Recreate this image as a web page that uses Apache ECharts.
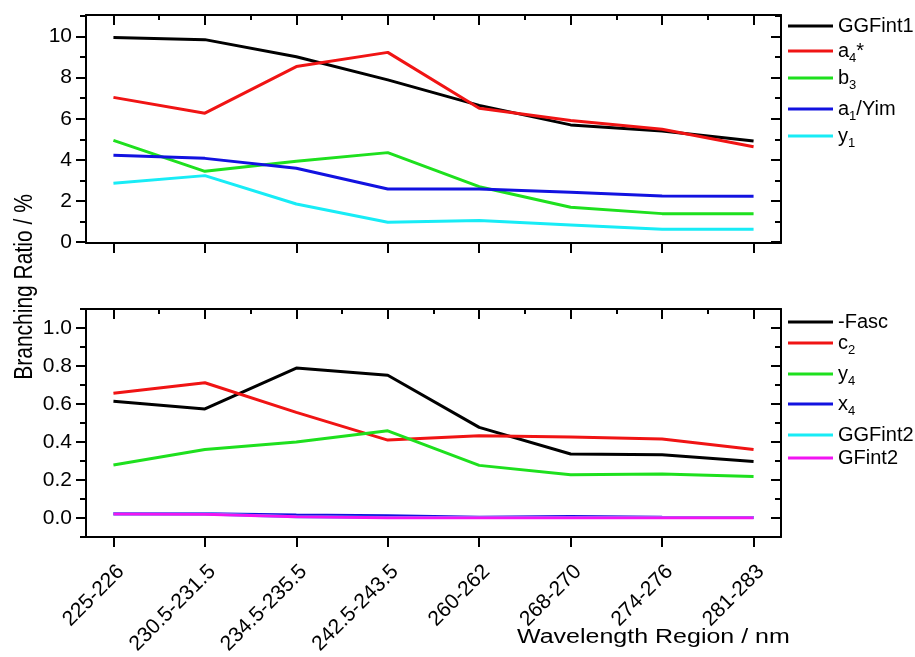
<!DOCTYPE html>
<html>
<head>
<meta charset="utf-8">
<script src="https://cdn.jsdelivr.net/npm/echarts@6/dist/echarts.min.js"></script>
<style>
  html, body { margin: 0; padding: 0; background: #ffffff; }
  #chart { width: 915px; height: 657px; }
</style>
</head>
<body>
<div id="chart"></div>
<script>
// Wavelength regions (nm) shared by both panels
const categories = ['225-226', '230.5-231.5', '234.5-235.5', '242.5-243.5', '260-262', '268-270', '274-276', '281-283'];

// Upper panel: branching ratios / %
const ggfint1 = [9.95, 9.85, 9.02, 7.89, 6.65, 5.70, 5.40, 4.92];
const a4star  = [7.04, 6.27, 8.54, 9.23, 6.51, 5.91, 5.49, 4.64];
const b3      = [4.95, 3.44, 3.93, 4.35, 2.69, 1.69, 1.38, 1.38];
const a1Yim   = [4.22, 4.07, 3.59, 2.58, 2.58, 2.42, 2.24, 2.22];
const y1      = [2.86, 3.23, 1.85, 0.96, 1.04, 0.83, 0.62, 0.62];

// Lower panel: branching ratios / %
const fasc    = [0.614, 0.574, 0.789, 0.751, 0.477, 0.337, 0.333, 0.298];
const c2      = [0.656, 0.712, 0.556, 0.410, 0.433, 0.426, 0.416, 0.361];
const y4      = [0.279, 0.361, 0.400, 0.459, 0.277, 0.228, 0.232, 0.219];
const x4      = [0.022, 0.022, 0.016, 0.012, 0.004, 0.008, 0.004, 0.002];
const ggfint2 = [0.021, 0.021, 0.007, 0.002, 0.002, 0.002, 0.002, 0.002];
const gfint2  = [0.021, 0.020, 0.006, 0.001, 0.001, 0.001, 0.001, 0.001];

// Tick positions
const catTicks   = [0, 1, 2, 3, 4, 5, 6, 7];
const midTicks   = [0.5, 1.5, 2.5, 3.5, 4.5, 5.5, 6.5];
const upperMajor = [0, 2, 4, 6, 8, 10];
const upperMinor = [1, 3, 5, 7, 9, 11];
const lowerMajor = [0, 0.2, 0.4, 0.6, 0.8, 1.0];
const lowerMinor = [-0.1, 0.1, 0.3, 0.5, 0.7, 0.9, 1.1];

const FONT = '"Liberation Sans", Arial, Helvetica, sans-serif';
const AXIS = { color: '#000000', width: 2 };

function xAxesFor(grid, withLabels) {
  const base = { type: 'value', gridIndex: grid, min: -0.3, max: 7.3, splitLine: { show: false } };
  return [
    Object.assign({}, base, {
      position: 'bottom',
      axisLine: { show: true, onZero: false, lineStyle: AXIS },
      axisTick: { show: true, inside: false, length: 10, customValues: catTicks, lineStyle: AXIS },
      axisLabel: {
        show: withLabels, customValues: catTicks,
        formatter: v => categories[Math.round(v)],
        rotate: 45, margin: 24, align: 'right', verticalAlign: 'top',
        fontSize: 21, fontFamily: FONT, color: '#000000'
      }
    }),
    Object.assign({}, base, {
      position: 'top',
      axisLine: { show: true, onZero: false, lineStyle: AXIS },
      axisTick: { show: true, inside: true, length: 10, customValues: catTicks, lineStyle: AXIS },
      axisLabel: { show: false, customValues: catTicks }
    }),
    Object.assign({}, base, {
      position: 'top',
      axisLine: { show: false, onZero: false },
      axisTick: { show: true, inside: true, length: 5, customValues: midTicks, lineStyle: AXIS },
      axisLabel: { show: false, customValues: midTicks }
    })
  ];
}

function yAxesFor(grid, min, max, major, minor, fmt) {
  const base = { type: 'value', gridIndex: grid, min: min, max: max, splitLine: { show: false } };
  return [
    Object.assign({}, base, {
      position: 'left',
      axisLine: { show: true, onZero: false, lineStyle: AXIS },
      axisTick: { show: true, inside: false, length: 10, customValues: major, lineStyle: AXIS },
      axisLabel: { show: true, customValues: major, formatter: fmt, margin: 14, fontSize: 21, fontFamily: FONT, color: '#000000' }
    }),
    Object.assign({}, base, {
      position: 'left',
      axisLine: { show: false, onZero: false },
      axisTick: { show: true, inside: false, length: 6, customValues: minor, lineStyle: AXIS },
      axisLabel: { show: false, customValues: minor }
    }),
    Object.assign({}, base, {
      position: 'right',
      axisLine: { show: true, onZero: false, lineStyle: AXIS },
      axisTick: { show: true, inside: true, length: 10, customValues: major, lineStyle: AXIS },
      axisLabel: { show: false, customValues: major }
    }),
    Object.assign({}, base, {
      position: 'right',
      axisLine: { show: false, onZero: false },
      axisTick: { show: true, inside: true, length: 6, customValues: minor, lineStyle: AXIS },
      axisLabel: { show: false, customValues: minor }
    })
  ];
}

function lineSeries(name, values, color, xi, yi) {
  return {
    type: 'line', name: name,
    data: values.map((v, i) => [i, v]),
    xAxisIndex: xi, yAxisIndex: yi,
    symbol: 'none', showSymbol: false,
    lineStyle: { width: 3, color: color },
    itemStyle: { color: color },
    emphasis: { disabled: true },
    silent: true
  };
}

// Names with a letter followed by a digit get the digit as a subscript
function legendText(name) {
  return name.replace(/^([a-z])(\d)/, '$1{s|$2}');
}

function legendItem(name, top) {
  return {
    orient: 'vertical', left: 788, top: top, padding: 0,
    icon: 'rect', itemWidth: 45, itemHeight: 3, itemGap: 0,
    selectedMode: false,
    data: [name],
    formatter: legendText,
    textStyle: {
      fontSize: 20, fontFamily: FONT, color: '#000000',
      rich: { s: { fontSize: 13, fontFamily: FONT, color: '#000000', padding: [14, 0, 0, 0] } }
    }
  };
}

const upperLegend = [['GGFint1', 16], ['a4*', 41], ['b3', 68], ['a1/Yim', 99], ['y1', 126]];
const lowerLegend = [['-Fasc', 312], ['c2', 333], ['y4', 364], ['x4', 394], ['GGFint2', 425], ['GFint2', 448]];

const chart = echarts.init(document.getElementById('chart'), null, { renderer: 'canvas' });

chart.setOption({
  animation: false,
  backgroundColor: '#ffffff',
  grid: [
    { left: 86, top: 15, width: 695, height: 228, outerBoundsMode: 'none', show: false },
    { left: 86, top: 309, width: 695, height: 228, outerBoundsMode: 'none', show: false }
  ],
  xAxis: xAxesFor(0, false).concat(xAxesFor(1, true)),
  yAxis: yAxesFor(0, -0.05, 11.05, upperMajor, upperMinor, v => String(Math.round(v)))
    .concat(yAxesFor(1, -0.1, 1.1, lowerMajor, lowerMinor, v => v.toFixed(1))),
  legend: upperLegend.map(r => legendItem(r[0], r[1])).concat(lowerLegend.map(r => legendItem(r[0], r[1]))),
  series: [
    lineSeries('GGFint1', ggfint1, '#000000', 0, 0),
    lineSeries('a4*', a4star, '#f01414', 0, 0),
    lineSeries('b3', b3, '#1ee01e', 0, 0),
    lineSeries('a1/Yim', a1Yim, '#1212e0', 0, 0),
    lineSeries('y1', y1, '#18ecf6', 0, 0),
    lineSeries('-Fasc', fasc, '#000000', 3, 4),
    lineSeries('c2', c2, '#f01414', 3, 4),
    lineSeries('y4', y4, '#1ee01e', 3, 4),
    lineSeries('x4', x4, '#1212e0', 3, 4),
    lineSeries('GGFint2', ggfint2, '#18ecf6', 3, 4),
    lineSeries('GFint2', gfint2, '#f214f2', 3, 4)
  ],
  graphic: [
    {
      type: 'text', x: 25, y: 287, rotation: Math.PI / 2, scaleY: 1.2,
      style: { text: 'Branching Ratio / %', x: 0, y: 0, align: 'center', verticalAlign: 'middle',
               fontSize: 21, fontFamily: FONT, fill: '#000000' }
    },
    {
      type: 'text', x: 517, y: 627, scaleX: 1.25,
      style: { text: 'Wavelength Region / nm', x: 0, y: 0, align: 'left', verticalAlign: 'top',
               fontSize: 20, fontFamily: FONT, fill: '#000000' }
    }
  ]
});
</script>
</body>
</html>
